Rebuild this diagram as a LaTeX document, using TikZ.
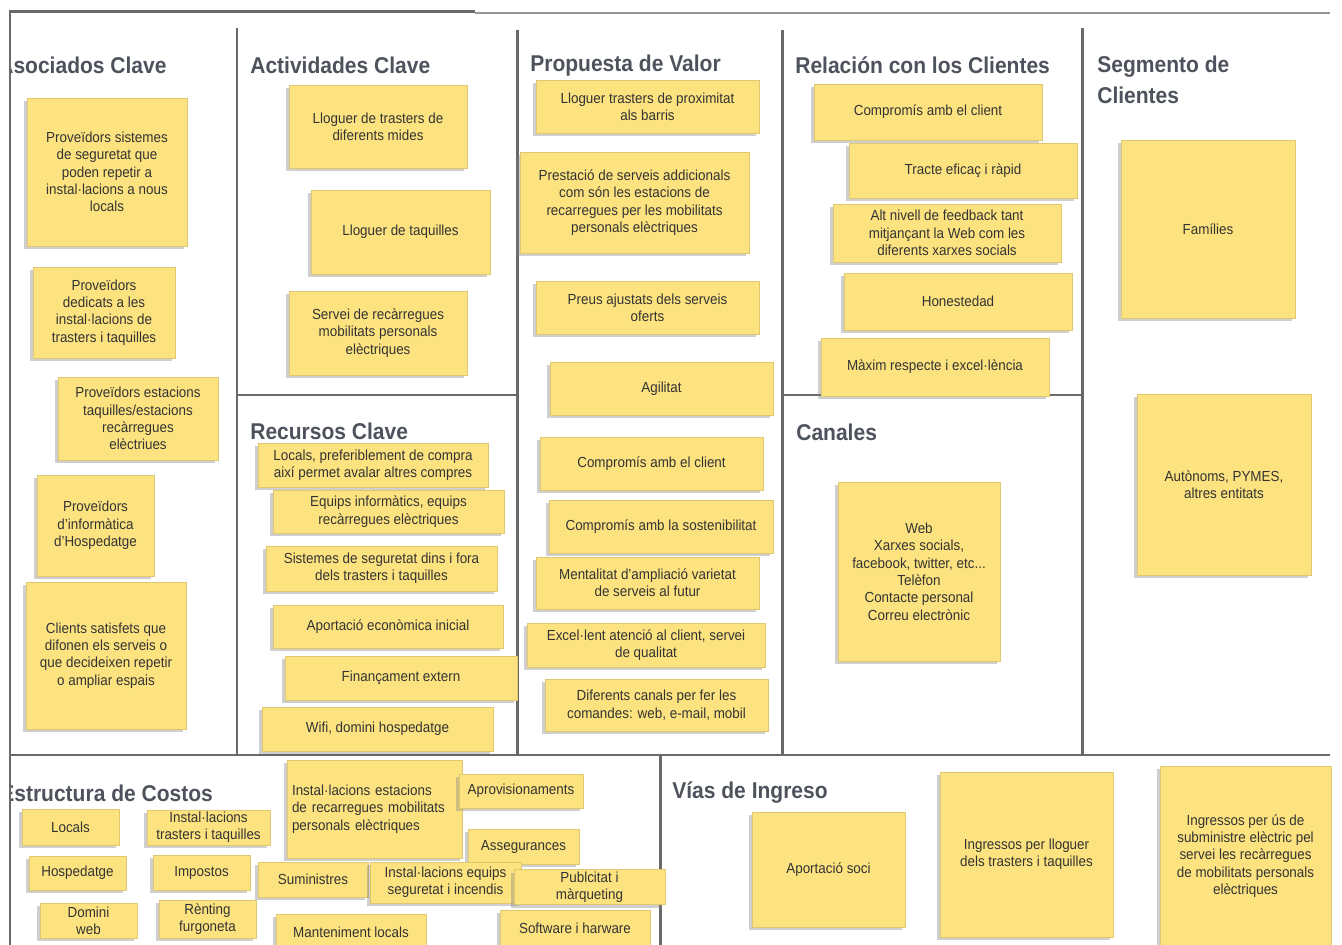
\documentclass[tikz,border=0pt]{standalone}
\usepackage{fontspec}
\setmainfont{Liberation Sans}[FakeStretch=0.92]
\usetikzlibrary{shadows}
\definecolor{stickyyellow}{RGB}{253,227,128}
\definecolor{framegray}{RGB}{105,105,105}
\definecolor{headgray}{RGB}{78,82,92}

\begin{document}
\begin{tikzpicture}[x=0.02cm,y=-0.02cm,
	sticky/.style={fill=stickyyellow,draw=stickyyellow!88!black,line width=0.2pt,inner sep=1pt,align=center,
		font=\fontsize{8.3}{9.9}\selectfont,text=black!80,
		drop shadow={shadow xshift=-1.5pt,shadow yshift=-1.8pt,opacity=0.38}},
	sz/.style 2 args={minimum width=#1*0.02cm,minimum height=#2*0.02cm},
	heading/.style={anchor=west,inner sep=0pt,align=left,text=headgray,
		font=\fontsize{13}{17.6}\selectfont\bfseries},
	wall/.style={draw=framegray,line width=1.7pt}]

\useasboundingbox (0,0) rectangle (1342,945);

\begin{scope}
\clip (9,0) rectangle (1342,945);
\node[heading] (h1) at (-2,65) {Asociados Clave};
\node[heading] (h9) at (0,793) {Estructura de Costos};
\end{scope}
\node[heading] (h2) at (250,65)   {Actividades Clave};
\node[heading] (h3) at (250,431)  {Recursos Clave};
\node[heading] (h4) at (530,66)   {Propuesta de Valor};
\node[heading] (h5) at (795,65)   {Relación con los Clientes};
\node[heading] (h6) at (796,432)  {Canales};
\node[heading] (h7) at (1097,80)  {Segmento de\\Clientes};
\node[heading] (h8) at (672,793)  {Vías de Ingreso};

\draw[wall] (10,12) -- (10,946);
\draw[wall] (9,12) -- (475,12);
\draw[framegray!70,line width=0.6pt] (475,13) -- (1330,13);
\draw[wall] (237,28) -- (237,755);
\draw[wall] (237,395) -- (517,395);
\draw[wall] (517,30) -- (517,755);
\draw[wall] (782,30) -- (782,755);
\draw[wall] (782,395) -- (1082,395);
\draw[wall] (1082,28) -- (1082,755);
\draw[wall] (10,755) -- (1330,755);
\draw[wall] (660,755) -- (660,946);

\node[sticky,sz={160}{148}] (ac1) at (107,172)   {Proveïdors sistemes\\de seguretat que\\poden repetir a\\instal·lacions a nous\\locals};
\node[sticky,sz={142}{91}]  (ac2) at (104,312.5) {Proveïdors\\dedicats a les\\instal·lacions de\\trasters i taquilles};
\node[sticky,sz={160}{83}]  (ac3) at (138,418.5) {Proveïdors estacions\\taquilles/estacions\\recàrregues\\elèctriues};
\node[sticky,sz={117}{101}] (ac4) at (95.5,525.5) {Proveïdors\\d'informàtica\\d'Hospedatge};
\node[sticky,sz={160}{147}] (ac5) at (106,655.5) {Clients satisfets que\\difonen els serveis o\\que decideixen repetir\\o ampliar espais};

\node[sticky,sz={178}{83}]  (ak1) at (378,126.5) {Lloguer de trasters de\\diferents mides};
\node[sticky,sz={179}{84}]  (ak2) at (400.5,232) {Lloguer de taquilles};
\node[sticky,sz={178}{84}]  (ak3) at (378,333)   {Servei de recàrregues\\mobilitats personals\\elèctriques};

\node[sticky,sz={230}{44}]  (rc1) at (373,465)   {Locals, preferiblement de compra\\així permet avalar altres compres};
\node[sticky,sz={231}{43}]  (rc2) at (388.5,511.5) {Equips informàtics, equips\\recàrregues elèctriques};
\node[sticky,sz={231}{45}]  (rc3) at (381.5,568.5) {Sistemes de seguretat dins i fora\\dels trasters i taquilles};
\node[sticky,sz={230}{43}]  (rc4) at (388,626.5) {Aportació econòmica inicial};
\node[sticky,sz={232}{44}]  (rc5) at (401,678)   {Finançament extern};
\node[sticky,sz={231}{44}]  (rc6) at (377.5,729) {Wifi, domini hospedatge};

\node[sticky,sz={223}{53}]  (pv1) at (647.5,106.5) {Lloguer trasters de proximitat\\als barris};
\node[sticky,sz={229}{101}] (pv2) at (634.5,202.5) {Prestació de serveis addicionals\\com són les estacions de\\recarregues per les mobilitats\\personals elèctriques};
\node[sticky,sz={223}{53}]  (pv3) at (647.5,307.5) {Preus ajustats dels serveis\\oferts};
\node[sticky,sz={223}{53}]  (pv4) at (661.5,388.5) {Agilitat};
\node[sticky,sz={223}{53}]  (pv5) at (651.5,463.5) {Compromís amb el client};
\node[sticky,sz={224}{53}]  (pv6) at (661,526.5)   {Compromís amb la sostenibilitat};
\node[sticky,sz={223}{52}]  (pv7) at (647.5,583)   {Mentalitat d'ampliació varietat\\de serveis al futur};
\node[sticky,sz={238}{44}]  (pv8) at (646,645)     {Excel·lent atenció al client, servei\\de qualitat};
\node[sticky,sz={223}{52}]  (pv9) at (656.5,705)   {Diferents canals per fer les\\comandes: web, e-mail, mobil};

\node[sticky,sz={228}{56}]  (rl1) at (928,112)   {Compromís amb el client};
\node[sticky,sz={228}{55}]  (rl2) at (963,170.5) {Tracte eficaç i ràpid};
\node[sticky,sz={228}{58}]  (rl3) at (947,233)   {Alt nivell de feedback tant\\mitjançant la Web com les\\diferents xarxes socials};
\node[sticky,sz={228}{57}]  (rl4) at (958,301.5) {Honestedad};
\node[sticky,sz={228}{58}]  (rl5) at (935,367)   {Màxim respecte i excel·lència};

\node[sticky,sz={162}{179}] (cn1) at (919,571.5) {Web\\Xarxes socials,\\facebook, twitter, etc...\\Telèfon\\Contacte personal\\Correu electrònic};

\node[sticky,sz={174}{178}] (sg1) at (1208,229)   {Famílies};
\node[sticky,sz={174}{181}] (sg2) at (1224,484.5) {Autònoms, PYMES,\\altres entitats};

\node[sticky,sz={97}{36}]   (co1)  at (70.5,827)   {Locals};
\node[sticky,sz={123}{35}]  (co2)  at (208.5,827.5) {Instal·lacions\\trasters i taquilles};
\node[sticky,sz={97}{34}]   (co3)  at (77.5,873)   {Hospedatge};
\node[sticky,sz={97}{35}]   (co4)  at (201.5,872.5) {Impostos};
\node[sticky,sz={97}{35}]   (co5)  at (88.5,920.5) {Domini\\web};
\node[sticky,sz={97}{38}]   (co6)  at (207.5,919)  {Rènting\\furgoneta};
\node[sticky,sz={173}{98},align=left,text width=3.3cm,inner sep=3pt] (co7) at (374.5,809) {Instal·lacions estacions\\de recarregues mobilitats\\personals elèctriques};
\node[sticky,sz={124}{34}]  (co8)  at (521,791)    {Aprovisionaments};
\node[sticky,sz={111}{35}]  (co9)  at (523.5,846.5) {Assegurances};
\node[sticky,sz={110}{35}]  (co10) at (313,879.5)  {Suministres};
\node[sticky,sz={151}{41}]  (co11) at (445.5,882.5) {Instal·lacions equips\\seguretat i incendis};
\node[sticky,sz={151}{35}]  (co12) at (589.5,887)  {Publcitat i\\màrqueting};
\node[sticky,sz={150}{36}]  (co13) at (351,932)    {Manteniment locals};
\node[sticky,sz={150}{36}]  (co14) at (575,928)    {Software i harware};

\node[sticky,sz={153}{115}] (in1) at (828.5,869.5) {Aportació soci};
\node[sticky,sz={173}{165}] (in2) at (1026.5,854.5) {Ingressos per lloguer\\dels trasters i taquilles};
\node[sticky,sz={171}{180}] (in3) at (1245.5,856)  {Ingressos per ús de\\subministre elèctric pel\\servei les recàrregues\\de mobilitats personals\\elèctriques};
\end{tikzpicture}
\end{document}
